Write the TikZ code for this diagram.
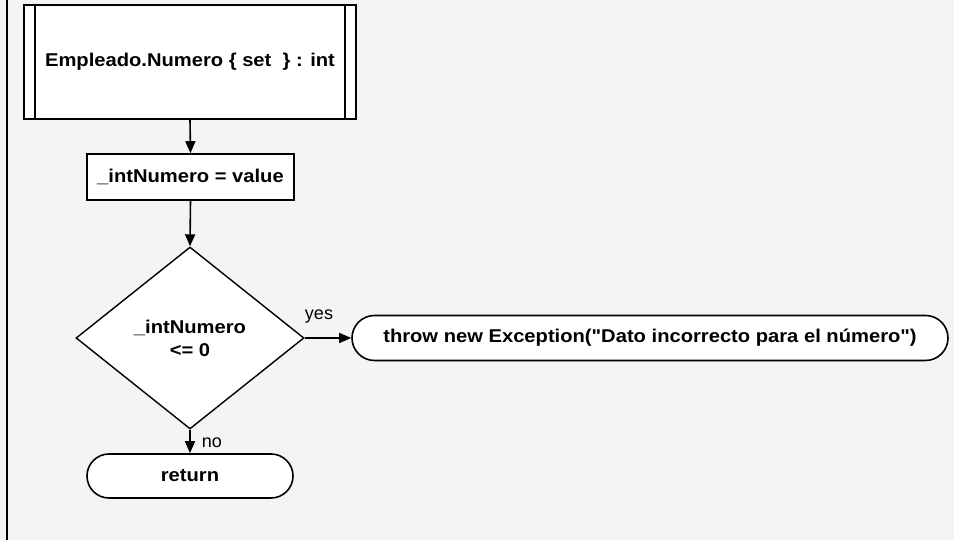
\documentclass[tikz,border=0pt]{standalone}
\usepackage{fontspec}
\setmainfont{Liberation Sans}
\newfontfamily\boxfont[FakeStretch=1.09]{Liberation Sans}
\usetikzlibrary{arrows.meta,shapes.geometric,shapes.misc}
\definecolor{canvas}{RGB}{244,244,244}
\newcommand{\dq}{\symbol{34}}
\begin{document}
\begin{tikzpicture}[x=1pt,y=1pt,
  every node/.style={font=\boxfont\fontsize{18.5}{23}\selectfont\bfseries, align=center, inner sep=0pt},
  shapebox/.style={draw, line width=1.6pt, fill=white},
  procbox/.style={shapebox, rectangle},
  terminal/.style={shapebox, rounded rectangle},
  decision/.style={shapebox, diamond, line width=1.4pt},
  flow/.style={line width=1.6pt, -{Triangle[length=12pt,width=10pt]}},
  tag/.style={font=\fontsize{18}{22}\selectfont\mdseries}
]
% canvas and left margin rule
\fill[canvas] (0,0) rectangle (954,540);
\useasboundingbox (0,0) rectangle (954,540);
\draw[line width=2pt] (7,0) -- (7,540);

% header (predefined process)
\node[procbox, minimum width=332, minimum height=114] (head) at (190,478)
  {Empleado.Numero \{ set\ \ \} : int};
\draw[line width=1.6pt] ([xshift=12pt]head.north west) -- ([xshift=12pt]head.south west);
\draw[line width=1.6pt] ([xshift=-12pt]head.north east) -- ([xshift=-12pt]head.south east);

% assignment
\node[procbox, minimum width=207, minimum height=46] (assign) at (190.5,363)
  {\_intNumero = value};

% test
\node[decision, minimum width=228, minimum height=182] (test) at (190,202)
  {\_intNumero\\ <= 0};

% outcomes
\node[terminal, minimum width=596, minimum height=45] (throw) at (650,202)
  {throw new Exception(\dq Dato incorrecto para el número\dq)};
\node[terminal, minimum width=206, minimum height=44] (ret) at (190,64)
  {return};

% connectors
\draw[flow] (head.south) -- (assign.north);
\draw[flow] (assign.south) -- (test.north);
\draw[flow] (test.east) -- (throw.west);
\draw[flow] (test.south) -- (ret.north);

% branch labels
\node[tag] (yes) at (319,223) {yes};
\node[tag] (no) at (212,97) {no};
\end{tikzpicture}
\end{document}
